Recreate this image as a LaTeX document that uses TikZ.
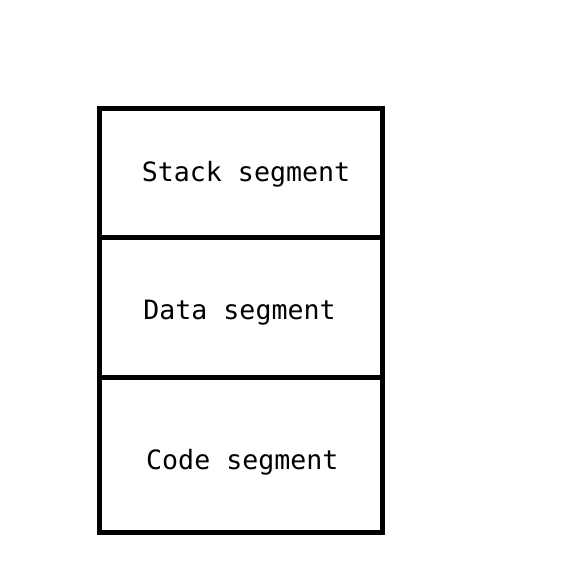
\documentclass[tikz,border=0pt]{standalone}
\usepackage{fontspec}
\newfontfamily\segfont{DejaVu Sans Mono}
\tikzset{
  frame/.style={draw=black, line width=5pt, line join=miter},
  seglabel/.style={anchor=base, inner sep=0pt, font=\segfont\fontsize{26.6pt}{30pt}\selectfont}
}
\begin{document}
\begin{tikzpicture}[x=1pt,y=-1pt]
\useasboundingbox (0,0) rectangle (561,564);
\coordinate (tl) at (99,108.5);
\coordinate (br) at (382.5,532.5);
\coordinate (d1l) at (99,237);
\coordinate (d1r) at (382.5,237);
\coordinate (d2l) at (99,377.5);
\coordinate (d2r) at (382.5,377.5);
\draw[frame] (tl) rectangle (br);
\draw[frame] (d1l) -- (d1r);
\draw[frame] (d2l) -- (d2r);
\node[seglabel] (stack) at (246,181) {Stack segment};
\node[seglabel] (data) at (239.5,319) {Data segment};
\node[seglabel] (code) at (242.3,469) {Code segment};
\end{tikzpicture}
\end{document}
